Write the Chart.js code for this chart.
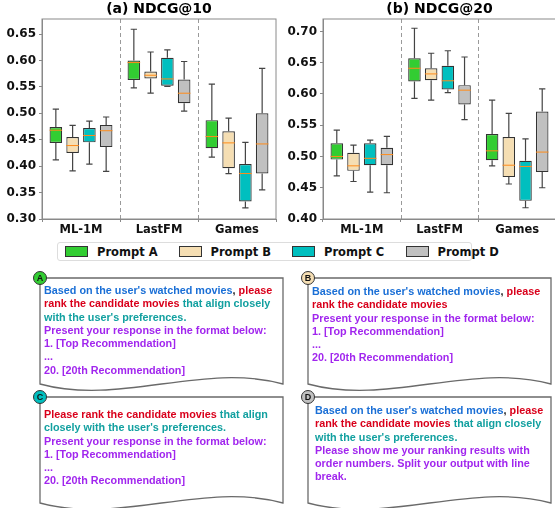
<!DOCTYPE html>
<html>
<head>
<meta charset="utf-8">
<script src="https://cdn.jsdelivr.net/npm/chart.js@4.4.1/dist/chart.umd.min.js"></script>
<style>
  html, body { margin: 0; padding: 0; background: #fff; }
  body { width: 555px; height: 508px; overflow: hidden; position: relative; }
  .plot { position: absolute; top: 0; }
  #legend {
    position: absolute; left: 57px; top: 242px; width: 415px; height: 19px;
    border: 1px solid #ddd; border-radius: 3px; box-sizing: border-box;
    font: bold 11.5px "DejaVu Sans", sans-serif; color: #111;
  }
  #legend .item { position: absolute; top: 3px; height: 12px; line-height: 12px; }
  #legend .sw { position: absolute; top: 0; width: 21px; height: 9px; border: 1.3px solid #333; }
  #legend .lbl { position: absolute; left: 32px; top: 0; white-space: nowrap; }
  svg#frames { position: absolute; left: 0; top: 0; }
  .prompt {
    position: absolute; white-space: nowrap;
    font: bold 10.8px "Liberation Sans", Arial, sans-serif; line-height: 13.3px;
  }
  .bl { color: #1a6fd6; }
  .rd { color: #d9001b; }
  .tl { color: #12a0a0; }
  .pu { color: #a126ee; }
  .bk { color: #222; }
</style>
</head>
<body>

<div class="plot" style="left:0; width:280px; height:240px;"><canvas id="chart10" width="280" height="240"></canvas></div>
<div class="plot" style="left:280px; width:276px; height:240px;"><canvas id="chart20" width="276" height="240"></canvas></div>

<div id="legend"></div>

<svg id="frames" width="555" height="508"></svg>

<div class="prompt" style="left:44px; top:284px;">
  <span class="bl">Based on the user's watched movies</span><span class="bk">, </span><span class="rd">please</span><br>
  <span class="rd">rank the candidate movies</span> <span class="tl">that align closely</span><br>
  <span class="tl">with the user's preferences.</span><br>
  <span class="pu">Present your response in the format below:</span><br>
  <span class="pu">1. [Top Recommendation]</span><br>
  <span class="pu">...</span><br>
  <span class="pu">20. [20th Recommendation]</span>
</div>

<div class="prompt" style="left:312px; top:285px;">
  <span class="bl">Based on the user's watched movies</span><span class="bk">, </span><span class="rd">please</span><br>
  <span class="rd">rank the candidate movies</span><br>
  <span class="pu">Present your response in the format below:</span><br>
  <span class="pu">1. [Top Recommendation]</span><br>
  <span class="pu">...</span><br>
  <span class="pu">20. [20th Recommendation]</span>
</div>

<div class="prompt" style="left:44px; top:408px;">
  <span class="rd">Please rank the candidate movies</span> <span class="tl">that align</span><br>
  <span class="tl">closely with the user's preferences.</span><br>
  <span class="pu">Present your response in the format below:</span><br>
  <span class="pu">1. [Top Recommendation]</span><br>
  <span class="pu">...</span><br>
  <span class="pu">20. [20th Recommendation]</span>
</div>

<div class="prompt" style="left:315px; top:404px;">
  <span class="bl">Based on the user's watched movies</span><span class="bk">, </span><span class="rd">please</span><br>
  <span class="rd">rank the candidate movies</span> <span class="tl">that align closely</span><br>
  <span class="tl">with the user's preferences.</span><br>
  <span class="pu">Please show me your ranking results with</span><br>
  <span class="pu">order numbers. Split your output with line</span><br>
  <span class="pu">break.</span>
</div>

<script>
/* ---------------------------------------------------
    Data: box stats per prompt, [min, q1, median, q3, max]
---------------------------------------------------*/
const categories = ['ML-1M', 'LastFM', 'Games'];
const prompts = ['Prompt A', 'Prompt B', 'Prompt C', 'Prompt D'];
const promptColors = ['#32cd32', '#f5deb3', '#00bfbf', '#c0c0c0'];
const badgeLetters = ['A', 'B', 'C', 'D'];

// NDCG@10
const ndcg10A = [[0.412, 0.444, 0.468, 0.474, 0.508], [0.548, 0.563, 0.596, 0.600, 0.659], [0.417, 0.434, 0.456, 0.487, 0.555]];
const ndcg10B = [[0.391, 0.425, 0.439, 0.455, 0.477], [0.538, 0.566, 0.572, 0.579, 0.616], [0.386, 0.396, 0.444, 0.466, 0.491]];
const ndcg10C = [[0.404, 0.445, 0.458, 0.472, 0.485], [0.551, 0.552, 0.565, 0.605, 0.620], [0.321, 0.333, 0.386, 0.404, 0.445]];
const ndcg10D = [[0.390, 0.436, 0.467, 0.478, 0.493], [0.504, 0.519, 0.538, 0.564, 0.598], [0.355, 0.386, 0.442, 0.500, 0.585]];

// NDCG@20
const ndcg20A = [[0.469, 0.495, 0.500, 0.521, 0.542], [0.593, 0.620, 0.641, 0.657, 0.705], [0.485, 0.494, 0.509, 0.536, 0.590]];
const ndcg20B = [[0.460, 0.477, 0.485, 0.506, 0.518], [0.590, 0.622, 0.632, 0.641, 0.665], [0.456, 0.467, 0.486, 0.531, 0.569]];
const ndcg20C = [[0.443, 0.486, 0.497, 0.521, 0.526], [0.602, 0.607, 0.621, 0.645, 0.669], [0.418, 0.429, 0.484, 0.493, 0.528]];
const ndcg20D = [[0.442, 0.486, 0.503, 0.514, 0.532], [0.559, 0.583, 0.606, 0.614, 0.659], [0.450, 0.475, 0.507, 0.572, 0.608]];

const ticks10 = [0.30, 0.35, 0.40, 0.45, 0.50, 0.55, 0.60, 0.65];
const ticks20 = [0.40, 0.45, 0.50, 0.55, 0.60, 0.65, 0.70];

/* ---------------------------------------------------
    Plugin: whiskers, caps, medians, dividers, frame
---------------------------------------------------*/
const boxPlugin = {
    id: 'boxExtras',
    beforeDatasetsDraw(chart) {
        const ctx = chart.ctx, area = chart.chartArea, x = chart.scales.x;
        ctx.save();
        ctx.strokeStyle = '#9a9a9a';
        ctx.lineWidth = 1;
        ctx.setLineDash([4, 3]);
        for (let i = 0; i < categories.length - 1; i++) {
            const px = Math.round((x.getPixelForValue(i) + x.getPixelForValue(i + 1)) / 2) + 0.5;
            ctx.beginPath();
            ctx.moveTo(px, area.top);
            ctx.lineTo(px, area.bottom);
            ctx.stroke();
        }
        ctx.restore();
    },
    afterDatasetsDraw(chart) {
        const ctx = chart.ctx, y = chart.scales.y;
        chart.data.datasets.forEach((ds, i) => {
            const meta = chart.getDatasetMeta(i);
            meta.data.forEach((bar, j) => {
                const s = ds.stats[j];
                const cx = bar.x, cap = bar.width / 4;
                ctx.save();
                ctx.strokeStyle = '#444';
                ctx.lineWidth = 1.2;
                ctx.beginPath();
                ctx.moveTo(cx, y.getPixelForValue(s[3]));
                ctx.lineTo(cx, y.getPixelForValue(s[4]));
                ctx.moveTo(cx - cap, y.getPixelForValue(s[4]));
                ctx.lineTo(cx + cap, y.getPixelForValue(s[4]));
                ctx.moveTo(cx, y.getPixelForValue(s[1]));
                ctx.lineTo(cx, y.getPixelForValue(s[0]));
                ctx.moveTo(cx - cap, y.getPixelForValue(s[0]));
                ctx.lineTo(cx + cap, y.getPixelForValue(s[0]));
                ctx.stroke();
                ctx.strokeStyle = '#ff8c1a';
                ctx.lineWidth = 1;
                ctx.beginPath();
                ctx.moveTo(cx - bar.width / 2, y.getPixelForValue(s[2]));
                ctx.lineTo(cx + bar.width / 2, y.getPixelForValue(s[2]));
                ctx.stroke();
                ctx.restore();
            });
        });
        const a = chart.chartArea;
        ctx.save();
        ctx.strokeStyle = '#8a8a8a';
        ctx.lineWidth = 1;
        ctx.strokeRect(a.left, a.top, a.right - a.left, a.bottom - a.top);
        ctx.restore();
    }
};

/* ---------------------------------------------------
    Helper: box chart creator
---------------------------------------------------*/
function createBoxChart(canvasId, title, series, yMin, yMax, tickVals, axisWidth, padRight) {
    const ctx = document.getElementById(canvasId).getContext('2d');
    return new Chart(ctx, {
        type: 'bar',
        data: {
            labels: categories,
            datasets: series.map((stats, i) => ({
                label: prompts[i],
                data: stats.map(s => [s[1], s[3]]),
                stats: stats,
                backgroundColor: promptColors[i],
                borderColor: '#333',
                borderWidth: 1.2,
                borderSkipped: false,
                barPercentage: 0.75,
                categoryPercentage: 0.86
            }))
        },
        options: {
            responsive: false,
            animation: false,
            layout: { padding: { left: 0, right: padRight, top: 0, bottom: 0 } },
            plugins: {
                legend: { display: false },
                tooltip: { enabled: false },
                title: {
                    display: true, text: title, fullSize: false, color: '#000',
                    font: { family: 'DejaVu Sans', size: 14, weight: 'bold' },
                    padding: { top: 1, bottom: 1.2 }
                }
            },
            scales: {
                x: {
                    offset: true,
                    grid: { display: true, drawOnChartArea: false, tickLength: 3, color: '#888' },
                    border: { display: true, color: '#888' },
                    ticks: { padding: 1, color: '#111', font: { family: 'DejaVu Sans', size: 11.5, weight: 'bold' } },
                    afterFit: s => { s.height = 21; }
                },
                y: {
                    min: yMin, max: yMax,
                    afterBuildTicks: s => { s.ticks = tickVals.map(v => ({ value: v })); },
                    grid: { display: true, drawOnChartArea: false, tickLength: 3, color: '#888' },
                    border: { display: true, color: '#888' },
                    ticks: {
                        padding: 3, color: '#111',
                        font: { family: 'DejaVu Sans', size: 12, weight: 'bold' },
                        callback: v => Number(v).toFixed(2)
                    },
                    afterFit: s => { s.width = axisWidth; }
                }
            }
        },
        plugins: [boxPlugin]
    });
}

createBoxChart('chart10', '(a) NDCG@10', [ndcg10A, ndcg10B, ndcg10C, ndcg10D], 0.30, 0.6784, ticks10, 42, 4);
createBoxChart('chart20', '(b) NDCG@20', [ndcg20A, ndcg20B, ndcg20C, ndcg20D], 0.40, 0.7198, ticks20, 43, 0);

/* ---------------------------------------------------
    Shared legend
---------------------------------------------------*/
const legend = document.getElementById('legend');
prompts.forEach((name, i) => {
    const item = document.createElement('div');
    item.className = 'item';
    item.style.left = (7 + i * 113.5) + 'px';
    item.innerHTML = `<span class="sw" style="background:${promptColors[i]}"></span><span class="lbl">${name}</span>`;
    legend.appendChild(item);
});

/* ---------------------------------------------------
    Prompt frames (document shape with wavy bottom)
---------------------------------------------------*/
const frameLefts = [40, 308, 40, 308];
const frameTops = [278, 278, 397, 397];
const frameBottoms = [384, 384, 503, 503];
const frameWidth = 243;

const svg = document.getElementById('frames');
let svgHtml = '';
frameLefts.forEach((x, i) => {
    const y = frameTops[i], b = frameBottoms[i], w = frameWidth, k = 22;
    svgHtml += `<path d="M${x},${y} L${x + w},${y} L${x + w},${b} C${x + 0.67 * w},${b - k} ${x + 0.33 * w},${b + k} ${x},${b} Z"
        fill="#fff" stroke="#6a6a6a" stroke-width="1.3"/>`;
});
frameLefts.forEach((x, i) => {
    const y = frameTops[i];
    svgHtml += `<circle cx="${x}" cy="${y}" r="6.5" fill="${promptColors[i]}" stroke="#333" stroke-width="1"/>
        <text x="${x}" y="${y + 3.2}" text-anchor="middle" font-family="Liberation Sans, Arial" font-weight="bold" font-size="9" fill="#111">${badgeLetters[i]}</text>`;
});
svg.innerHTML = svgHtml;
</script>
</body>
</html>
